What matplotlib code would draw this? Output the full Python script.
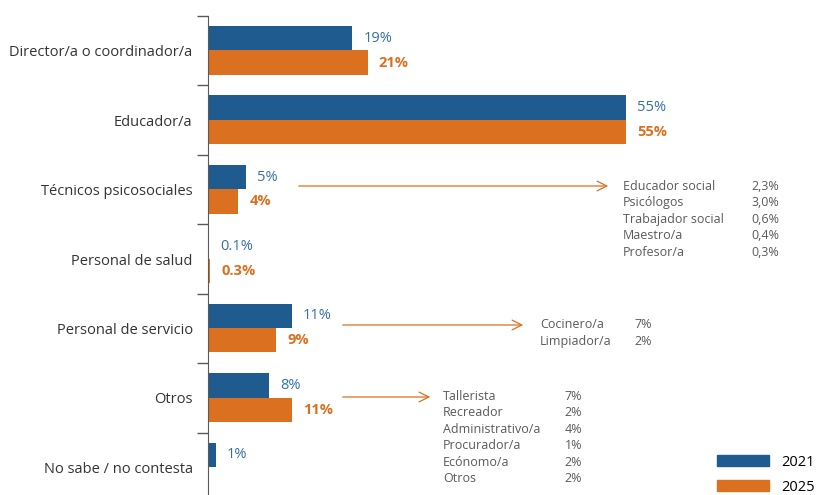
import numpy as np
import matplotlib.pyplot as plt
from matplotlib.patches import Patch, FancyArrowPatch

plt.rcParams['font.family'] = ['Open Sans', 'DejaVu Sans']

# Data
categories = ['Director/a o coordinador/a', 'Educador/a', 'Técnicos psicosociales',
              'Personal de salud', 'Personal de servicio', 'Otros',
              'No sabe / no contesta']
vals_2021 = [19, 55, 5, 0.1, 11, 8, 1]
vals_2025 = [21, 55, 4, 0.3, 9, 11, np.nan]
labels_2021 = ['19%', '55%', '5%', '0.1%', '11%', '8%', '1%']
labels_2025 = ['21%', '55%', '4%', '0.3%', '9%', '11%', '']

# Breakdown lists shown to the right of some categories
tec_names = ['Educador social', 'Psicólogos', 'Trabajador social', 'Maestro/a', 'Profesor/a']
tec_vals = ['2,3%', '3,0%', '0,6%', '0,4%', '0,3%']
serv_names = ['Cocinero/a', 'Limpiador/a']
serv_vals = ['7%', '2%']
otros_names = ['Tallerista', 'Recreador', 'Administrativo/a', 'Procurador/a', 'Ecónomo/a', 'Otros']
otros_vals = ['7%', '2%', '4%', '1%', '2%', '2%']

BLUE = '#1f5b8e'
ORANGE = '#da7020'
BLUE_TXT = '#336fa6'
GRAY = '#5a5a5a'

W, H = 818, 495
fig = plt.figure(figsize=(W / 100, H / 100), dpi=100)
# axes spans pixel x 208..818, y 16..502 (bottom runs past the canvas)
ax = fig.add_axes([208 / W, 1 - 502 / H, 610 / W, 486 / H])

y = np.arange(len(categories))
bh = 0.35
ax.barh(y - 0.18, vals_2021, height=bh, color=BLUE, label='2021')
ax.barh(y + 0.17, vals_2025, height=bh, color=ORANGE, label='2025')

for i in range(len(categories)):
    ax.annotate(labels_2021[i], (vals_2021[i], y[i] - 0.18), xytext=(8, 0),
                textcoords='offset points', va='center', ha='left',
                color=BLUE_TXT, fontsize=10.5)
    if labels_2025[i]:
        ax.annotate(labels_2025[i], (vals_2025[i], y[i] + 0.17), xytext=(8, 0),
                    textcoords='offset points', va='center', ha='left',
                    color=ORANGE, fontsize=10.5, fontweight='bold')

ax.set_xlim(0, 80.3)
ax.set_ylim(len(categories) - 0.5, -0.5)
ax.set_yticks(y)
ax.set_yticklabels(categories, fontsize=10.5, color='#333333')
ax.set_yticks(np.arange(-0.5, len(categories), 1), minor=True)
ax.tick_params(axis='y', which='major', length=0, pad=11)
ax.tick_params(axis='y', which='minor', length=8, width=1, color=GRAY)
ax.set_xticks([])
for s in ['top', 'right', 'bottom']:
    ax.spines[s].set_visible(False)
ax.spines['left'].set_color(GRAY)


def px(x, yy):
    return x / W, 1 - yy / H


def arrow(x0, x1, yy):
    fig.add_artist(FancyArrowPatch(
        px(x0, yy), px(x1, yy), transform=fig.transFigure,
        arrowstyle='->,head_length=7,head_width=3.5', color=ORANGE, lw=0.9,
        mutation_scale=1))


def breakdown(names, vals, xn, xv, y0, step=16.6):
    for k, (n, v) in enumerate(zip(names, vals)):
        fig.text(*px(xn, y0 + k * step), n, ha='left', va='center',
                 fontsize=9, color=GRAY)
        fig.text(*px(xv, y0 + k * step), v, ha='right', va='center',
                 fontsize=9, color=GRAY)


arrow(296, 611, 186)
breakdown(tec_names, tec_vals, 623, 779, 186)
arrow(340, 526, 325)
breakdown(serv_names, serv_vals, 540, 652, 325)
arrow(340, 433, 397)
breakdown(otros_names, otros_vals, 443, 582, 396)

handles = [Patch(color=BLUE, label='2021'), Patch(color=ORANGE, label='2025')]
fig.legend(handles=handles, loc='lower right', bbox_to_anchor=(1.012, -0.026),
           frameon=False, fontsize=10.5, handlelength=3.6, handleheight=0.8,
           handletextpad=0.8, labelspacing=0.7)

fig.savefig('out.png', dpi=100)
